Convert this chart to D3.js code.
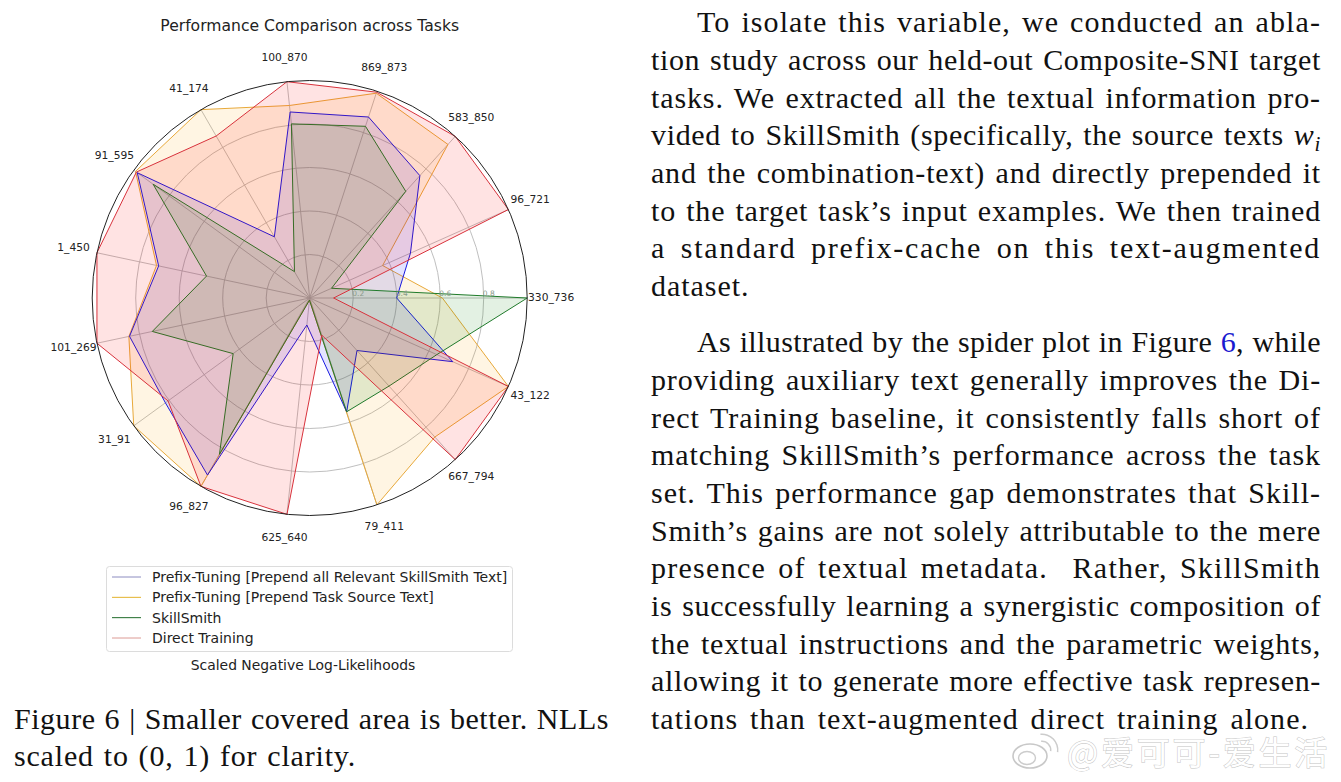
<!DOCTYPE html>
<html><head><meta charset="utf-8">
<script src="https://cdnjs.cloudflare.com/ajax/libs/d3/7.8.5/d3.min.js"></script>
<style>html,body{margin:0;padding:0;background:#fff;overflow:hidden}svg{display:block}</style>
</head><body><svg id="c" width="1341" height="782"></svg>
<script>
const tasks = ["330_736","96_721","583_850","869_873","100_870","41_174","91_595","1_450","101_269","31_91","96_827","625_640","79_411","667_794","43_122"];
const prefixAll = [0.40,0.507,0.757,0.875,0.86,0.325,0.98,0.71,0.847,0.82,0.94,0.125,0.55,0.325,0.72];
const prefixSource = [0.61,0.367,0.95,0.99,0.89,1.0,0.99,0.72,0.85,1.0,1.0,0.01,1.0,0.86,1.0];
const skillSmith = [1.0,0.11,0.66,0.83,0.805,0.14,0.89,0.485,0.74,0.435,0.83,0.01,0.55,0.545,0.64];
const directTraining = [0.11,1.0,1.0,0.995,1.0,0.86,0.985,1.0,1.0,0.805,1.0,1.0,0.18,1.0,1.0];
const seriesNames = ["Prefix-Tuning [Prepend all Relevant SkillSmith Text]","Prefix-Tuning [Prepend Task Source Text]","SkillSmith","Direct Training"];
const radialTicks = [0.2,0.4,0.6,0.8];
const chartTitle = "Performance Comparison across Tasks";
const axisNote = "Scaled Negative Log-Likelihoods";
const captionLines = ["Figure 6 | Smaller covered area is better. NLLs","scaled to (0, 1) for clarity."];
const paragraphOne = ["To isolate this variable, we conducted an abla-","tion study across our held-out Composite-SNI target","tasks. We extracted all the textual information pro-","vided to SkillSmith (specifically, the source texts {i:w}{s:i}","and the combination-text) and directly prepended it","to the target task’s input examples. We then trained","a standard prefix-cache on this text-augmented","dataset."];
const paragraphTwo = ["As illustrated by the spider plot in Figure {b:6}, while","providing auxiliary text generally improves the Di-","rect Training baseline, it consistently falls short of","matching SkillSmith’s performance across the task","set. This performance gap demonstrates that Skill-","Smith’s gains are not solely attributable to the mere","presence of textual metadata.  Rather, SkillSmith","is successfully learning a synergistic composition of","the textual instructions and the parametric weights,","allowing it to generate more effective task represen-","tations than text-augmented direct training alone."];
const watermark = "@爱可可-爱生活";

const lineColors = ["#1a1ae0","#e8a93a","#1f7a2a","#d8323c"];
const fillColors = ["#0000ff","#ffa500","#008000","#ff0000"];
const legendColors = ["#8c8cc0","#e3b32c","#1f6b2a","#dc9a94"];
const drawOrder = [1,0,2,3];

const svg = d3.select("#c");
const cx = 309.7, cy = 298, R = 217.5;
const r = d3.scaleLinear().domain([0,1]).range([0,R]);
const angle = d3.scaleLinear().domain([0,tasks.length]).range([Math.PI/2, Math.PI/2-2*Math.PI]);
const plot = svg.append("g").attr("transform",`translate(${cx},${cy})`);
const pt = (i,v)=>[r(v)*Math.sin(angle(i)), -r(v)*Math.cos(angle(i))];

// grid
plot.selectAll("circle.g").data(radialTicks).join("circle").attr("class","g").attr("r",d=>r(d))
  .attr("fill","none").attr("stroke","#b8b8b8").attr("stroke-width",0.9);
plot.selectAll("line.s").data(tasks).join("line").attr("class","s")
  .attr("x2",(d,i)=>pt(i,1)[0]).attr("y2",(d,i)=>pt(i,1)[1]).attr("stroke","#b8b8b8").attr("stroke-width",0.9);

// series
const radial = d3.lineRadial().angle((d,i)=>angle(i)).radius(d=>r(d)).curve(d3.curveLinearClosed);
const allSeries = [prefixAll,prefixSource,skillSmith,directTraining];
drawOrder.forEach(k=>{
  plot.append("path").attr("d",radial(allSeries[k])).attr("fill",fillColors[k]).attr("fill-opacity",0.11)
    .attr("stroke",lineColors[k]).attr("stroke-width",1).attr("stroke-linejoin","miter");
});
plot.append("circle").attr("r",R).attr("fill","none").attr("stroke","#222").attr("stroke-width",1);

// radial tick labels
plot.selectAll("text.t").data(radialTicks).join("text").attr("class","t")
  .attr("x",d=>r(d)+5).attr("y",-2).attr("text-anchor","middle")
  .attr("font-family","DejaVu Sans").attr("font-size",7.5).attr("fill","#8a9a8a").text(d=>d3.format(".1f")(d));

// category labels
const sans = "DejaVu Sans";
plot.selectAll("text.l").data(tasks).join("text").attr("class","l")
  .attr("x",(d,i)=>r(1.11)*Math.sin(angle(i))).attr("y",(d,i)=>-r(1.11)*Math.cos(angle(i))-1)
  .attr("dy","0.36em").attr("text-anchor","middle").attr("font-family",sans).attr("font-size",10.7)
  .attr("fill","#222").text(d=>d);

// title
svg.append("text").attr("x",cx).attr("y",31).attr("text-anchor","middle").attr("font-family",sans)
  .attr("font-size",15.6).attr("fill","#222").text(chartTitle);

// legend
const lg = svg.append("g");
lg.append("rect").attr("x",106.5).attr("y",566.5).attr("width",406).attr("height",85).attr("rx",3)
  .attr("fill","#fff").attr("stroke","#dcdcdc").attr("stroke-width",1);
const rowY = d3.scalePoint().domain(d3.range(4)).range([577,638]);
seriesNames.forEach((n,i)=>{
  lg.append("line").attr("x1",112).attr("x2",141).attr("y1",rowY(i)).attr("y2",rowY(i)).attr("stroke",legendColors[i]).attr("stroke-width",1);
  lg.append("text").attr("x",152).attr("y",rowY(i)).attr("dy","0.36em").attr("font-family",sans)
    .attr("font-size",14).attr("fill","#222").text(n);
});
svg.append("text").attr("x",303).attr("y",670).attr("text-anchor","middle").attr("font-family",sans)
  .attr("font-size",13.9).attr("fill","#222").text(axisNote);

// text blocks
const serif = "Liberation Serif";
function addLine(str,x,y,right,size){
  const t = svg.append("text").attr("x",x).attr("y",y).attr("font-family",serif).attr("font-size",size).attr("fill","#111").attr("xml:space","preserve");
  str.split(/(\{[^}]+\})/).filter(Boolean).forEach(seg=>{
    const m = seg.match(/^\{(\w):(.+)\}$/);
    if(!m){t.append("tspan").text(seg);return;}
    const sp = t.append("tspan").text(m[2]);
    if(m[1]==="i") sp.attr("font-style","italic");
    if(m[1]==="s") sp.attr("font-style","italic").attr("font-size",size*0.7).attr("dy",6);
    if(m[1]==="b") sp.attr("fill","#1a1ad0");
  });
  if(right){
    const w = t.node().getComputedTextLength();
    const n = (str.match(/ /g)||[]).length;
    const chars = str.replace(/\{\w:|\}/g,"").length;
    const extra = right-x-w;
    t.style("letter-spacing",(extra*0.75/chars)+"px");
    const w2 = t.node().getComputedTextLength();
    if(n) t.style("word-spacing",(right-x-w2)/n+"px");
  }
}
const bodySize = 30, left = 651, rightE = 1321, indent = 697, lh = 37.65;
const ends1 = paragraphOne.map((d,i)=> i===paragraphOne.length-1 ? 752 : rightE);
paragraphOne.forEach((s,i)=>addLine(s,i===0?indent:left,32.4+i*lh,ends1[i],bodySize));
const ends2 = paragraphTwo.map((d,i)=> i===paragraphTwo.length-1 ? 1309 : rightE);
paragraphTwo.forEach((s,i)=>addLine(s,i===0?indent:left,352.4+i*lh,ends2[i],bodySize));
addLine(captionLines[0],14,728.6,609,bodySize);
addLine(captionLines[1],14,765.6,356,bodySize);

// watermark
const wm = svg.append("g");
wm.append("text").attr("x",1067).attr("y",765).attr("font-family","Noto Sans CJK SC").attr("font-size",33)
  .attr("letter-spacing",2.8).attr("fill","#fff").attr("stroke","#c4c4c4").attr("stroke-width",1).attr("paint-order","stroke").text(watermark);
wm.append("ellipse").attr("cx",1030).attr("cy",756).attr("rx",17).attr("ry",12).attr("fill","#fff").attr("stroke","#c8c8c8").attr("stroke-width",1.6);
wm.append("ellipse").attr("cx",1027).attr("cy",758).attr("rx",8.5).attr("ry",6.5).attr("fill","#fff").attr("stroke","#cccccc").attr("stroke-width",1.4);
wm.append("path").attr("d",d3.arc()({innerRadius:15,outerRadius:16.5,startAngle:-0.1,endAngle:1.7})).attr("transform","translate(1042,750)").attr("fill","#cccccc");
wm.append("path").attr("d",d3.arc()({innerRadius:8,outerRadius:9.5,startAngle:-0.1,endAngle:1.7})).attr("transform","translate(1042,750)").attr("fill","#cccccc");
</script></body></html>
